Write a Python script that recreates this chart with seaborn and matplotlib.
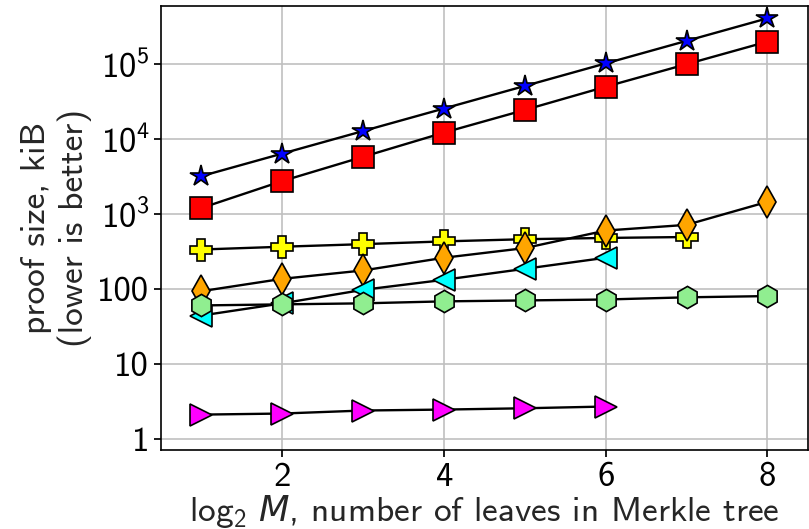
import numpy as np
import pandas as pd
import matplotlib
matplotlib.use("Agg")
import matplotlib.pyplot as plt
from matplotlib.ticker import FixedLocator, FixedFormatter, NullLocator
import seaborn as sns

# log2 of the number of leaves
x_full = [1, 2, 3, 4, 5, 6, 7, 8]

# proof sizes in kiB, one list per scheme
star_vals = [3200, 6400, 12800, 25600, 51200, 102400, 204800, 409600]
square_vals = [1200, 2750, 5800, 12200, 24500, 50000, 100000, 200000]
plus_vals = [335, 365, 395, 430, 460, 478, 492]
diamond_vals = [93, 136, 176, 260, 350, 600, 715, 1450]
ltri_vals = [44, 64, 97, 132, 185, 260]
hex_vals = [60, 62, 64, 68, 70, 72, 77, 80]
rtri_vals = [2.09, 2.16, 2.37, 2.44, 2.54, 2.68]

ytick_vals = [1, 10, 100, 1e3, 1e4, 1e5]
ytick_labels = ["1", "10", "100", r"$10^3$", r"$10^4$", r"$10^5$"]
xtick_vals = [2, 4, 6, 8]

series = [
    (star_vals, "*", "#0000ff"),
    (square_vals, "s", "#ff0000"),
    (plus_vals, "P", "#ffff00"),
    (diamond_vals, "d", "#ffa500"),
    (ltri_vals, "<", "#00ffff"),
    (hex_vals, "h", "#90ee90"),
    (rtri_vals, ">", "#ff00ff"),
]

sns.set_theme(style="ticks")
plt.rcParams.update({
    "font.family": ["cmss10", "DejaVu Sans"],
    "mathtext.fontset": "custom",
    "mathtext.rm": "cmss10",
    "mathtext.it": "DejaVu Sans:italic",
    "axes.formatter.use_mathtext": True,
    "axes.unicode_minus": False,
    "axes.edgecolor": "black",
    "axes.linewidth": 1.2,
    "xtick.color": "black",
    "ytick.color": "black",
    "xtick.major.size": 5,
    "ytick.major.size": 5,
})

fig = plt.figure(figsize=(8.09, 5.29), dpi=100)
ax = fig.add_axes([0.199, 0.149, 0.7995, 0.8398])

for vals, mk, col in series:
    df = pd.DataFrame({"x": x_full[:len(vals)], "y": vals})
    sns.lineplot(data=df, x="x", y="y", ax=ax, color="black", linewidth=1.7,
                 marker=mk, markersize=16, markerfacecolor=col,
                 markeredgecolor="black", markeredgewidth=1.2)

ax.set_yscale("log")
ax.set_xlim(0.5, 8.5)
ax.set_ylim(0.7, 6e5)
ax.yaxis.set_major_locator(FixedLocator(ytick_vals))
ax.yaxis.set_major_formatter(FixedFormatter(ytick_labels))
ax.yaxis.set_minor_locator(NullLocator())
ax.xaxis.set_major_locator(FixedLocator(xtick_vals))
ax.tick_params(labelsize=25)
ax.grid(True, color="#c0c0c0", linewidth=1.2)
ax.set_axisbelow(True)
for s in ax.spines.values():
    s.set_visible(True)

ax.set_xlabel(r"log$_2$ $M$, number of leaves in Merkle tree", fontsize=25.5, labelpad=0)
ax.set_ylabel("proof size, kiB\n(lower is better)", fontsize=25.5, labelpad=4)

fig.savefig("out.png", dpi=100)
